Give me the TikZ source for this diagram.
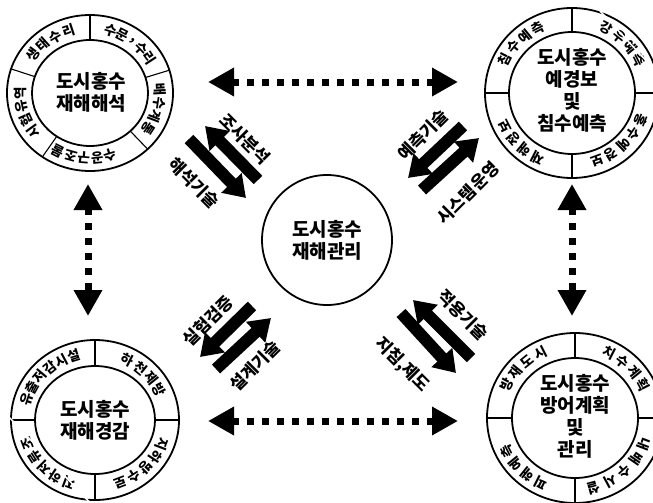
\documentclass[tikz,border=0pt]{standalone}
\usepackage{fontspec}
\setmainfont{Noto Sans CJK KR}
\usetikzlibrary{arrows.meta,calc}
\tikzset{
  maintext/.style={font=\fontsize{19}{22}\selectfont\bfseries, align=center, inner sep=0},
  segtext/.style={font=\fontsize{13.5}{13.5}\selectfont\bfseries, inner sep=0},
  arrlabel/.style={font=\fontsize{17}{17}\selectfont\bfseries, inner sep=0},
  ring/.style={line width=1.8},
  divider/.style={line width=1.1},
  dotarrow/.style={line width=7, dash pattern=on 7 off 8, {Triangle[width=27,length=26]}-{Triangle[width=27,length=26]}},
  blockarrow/.style={line width=12, -{Triangle[width=27,length=21]}},
}
% #1 name prefix, #2 cx, #3 cy (px, downwards), #4 rx, #5 ry, #6 start angle, #7 step, #8 list
\newcommand\ringtext[8]{%
  \foreach \ch [count=\i from 0] in {#8}{%
    \pgfmathsetmacro\ang{#6-\i*#7}%
    \node[segtext, rotate=\ang-90, name=#1-\i] at ({#2+#4*cos(\ang)},{-#3+#5*sin(\ang)}) {\ch};
  }}
% #1 name, #2 cx, #3 cy, #4 outer rx, #5 outer ry, #6 inner rx, #7 inner ry, #8 angle list
\newcommand\ringshape[8]{%
  \coordinate (#1) at (#2,-#3);
  \draw[ring] (#1) ellipse [x radius=#4, y radius=#5];
  \draw[ring] (#1) ellipse [x radius=#6, y radius=#7];
  \foreach \a in {#8}{%
    \draw[divider] ({#2+#6*cos(\a)},{-#3+#7*sin(\a)}) -- ({#2+#4*cos(\a)},{-#3+#5*sin(\a)});
  }}
\newcommand\pencil[2]{%
  \draw[blockarrow] (#1) -- (#2);
  \draw[white, line width=1.5] ($($(#1)!7!(#2)$)!6.5!90:(#2)$) -- ($($(#1)!7!(#2)$)!6.5!-90:(#2)$);
}
\begin{document}
\begin{tikzpicture}[x=1pt,y=1pt]
\useasboundingbox (0,0) rectangle (653,-503);

% ---------- top-left ring ----------
\ringshape{tl}{90}{93}{83}{78}{58}{53}{90,17,-46,235,162}
\node[maintext] (tlt) at (91,-92) {도시홍수\\재해해석};
\ringtext{tla}{90}{93}{70}{65}{144}{12}{생,태,수,리}
\ringtext{tlb}{90}{93}{70}{65}{73}{10}{수,문,{,},수,리}
\ringtext{tlc}{90}{93}{70}{65}{3}{12}{배,수,계,통}
\ringtext{tld}{90}{93}{70}{65}{-73}{11}{수,공,구,조,물}
\ringtext{tle}{90}{93}{70}{65}{216}{12}{시,험,유,역}

% ---------- top-right ring ----------
\ringshape{tr}{572}{93}{87}{85}{63}{61}{90,0,180,270}
\node[maintext] (trt) at (572,-90) {도시홍수\\예경보\\및\\침수예측};
\ringtext{tra}{572}{93}{75}{73}{153}{12}{침,수,예,측}
\ringtext{trb}{572}{93}{75}{73}{63}{12}{강,우,예,측}
\ringtext{trc}{572}{93}{74}{72}{-22}{12}{홍,수,예,경,보}
\ringtext{trd}{572}{93}{75}{73}{-117}{12}{재,해,정,보}

% ---------- bottom-left ring ----------
\ringshape{bl}{95}{420}{84}{80}{60}{54}{90,0,180,270}
\node[maintext] (blt) at (95,-420) {도시홍수\\재해경감};
\ringtext{bla}{95}{420}{72}{67}{162}{11}{유,출,저,감,시,설}
\ringtext{blb}{95}{420}{72}{67}{63}{12}{하,천,제,방}
\ringtext{blc}{95}{420}{72}{67}{-21}{12}{지,하,방,수,로}
\ringtext{bld}{95}{420}{72}{67}{-111}{12}{지,하,저,류,조}

% ---------- bottom-right ring ----------
\ringshape{br}{575}{418}{88}{85}{63}{60}{90,0,180,270}
\node[maintext] (brt) at (575,-416) {도시홍수\\방어계획\\및\\관리};
\ringtext{bra}{575}{418}{76}{73}{153}{12}{방,재,도,시}
\ringtext{brb}{575}{418}{76}{73}{63}{12}{치,수,계,획}
\ringtext{brc}{575}{418}{74}{72}{-21}{13.5}{내,배,수,시,설}
\ringtext{brd}{575}{418}{76}{73}{-117}{12}{피,해,예,측}

% ---------- centre ----------
\node[draw, circle, line width=1.8, minimum size=130, maintext] (ctr) at (327,-240) {도시홍수\\재해관리};

% ---------- dotted double arrows ----------
\coordinate (ht1) at (208,-82); \coordinate (ht2) at (458,-82);
\coordinate (hb1) at (208,-421); \coordinate (hb2) at (458,-421);
\coordinate (vl1) at (88,-184); \coordinate (vl2) at (88,-316);
\coordinate (vr1) at (572,-184); \coordinate (vr2) at (572,-316);
\draw[dotarrow] (ht1) -- (ht2);
\draw[dotarrow] (hb1) -- (hb2);
\draw[dotarrow] (vl1) -- (vl2);
\draw[dotarrow] (vr1) -- (vr2);

% ---------- block arrows ----------
\coordinate (a1s) at (258,-180); \coordinate (a1e) at (205,-126);
\coordinate (a2s) at (189,-139); \coordinate (a2e) at (246,-198);
\pencil{a1s}{a1e}\pencil{a2s}{a2e}
\node[arrlabel, rotate=-45] (a1l) at (245,-139) {조사분석};
\node[arrlabel, rotate=-45] (a2l) at (194,-183) {해석기술};

\coordinate (b1s) at (463,-126); \coordinate (b1e) at (408,-178);
\coordinate (b2s) at (422,-190); \coordinate (b2e) at (479,-138);
\pencil{b1s}{b1e}\pencil{b2s}{b2e}
\node[arrlabel, rotate=45] (b1l) at (423,-135) {예측기술};
\node[arrlabel, rotate=45] (b2l) at (468,-193) {시스템운영};

\coordinate (c1s) at (252,-306); \coordinate (c1e) at (200,-357);
\coordinate (c2s) at (216,-369); \coordinate (c2e) at (271,-318);
\pencil{c1s}{c1e}\pencil{c2s}{c2e}
\node[arrlabel, rotate=45] (c1l) at (208,-321) {실험검증};
\node[arrlabel, rotate=45] (c2l) at (255,-366) {설계기술};

\coordinate (d1s) at (471,-358); \coordinate (d1e) at (413,-300);
\coordinate (d2s) at (401,-313); \coordinate (d2e) at (456,-373);
\pencil{d1s}{d1e}\pencil{d2s}{d2e}
\node[arrlabel, rotate=-45] (d1l) at (463,-315) {적용기술};
\node[arrlabel, rotate=-45] (d2l) at (402,-365) {지침,제도};
\end{tikzpicture}
\end{document}
